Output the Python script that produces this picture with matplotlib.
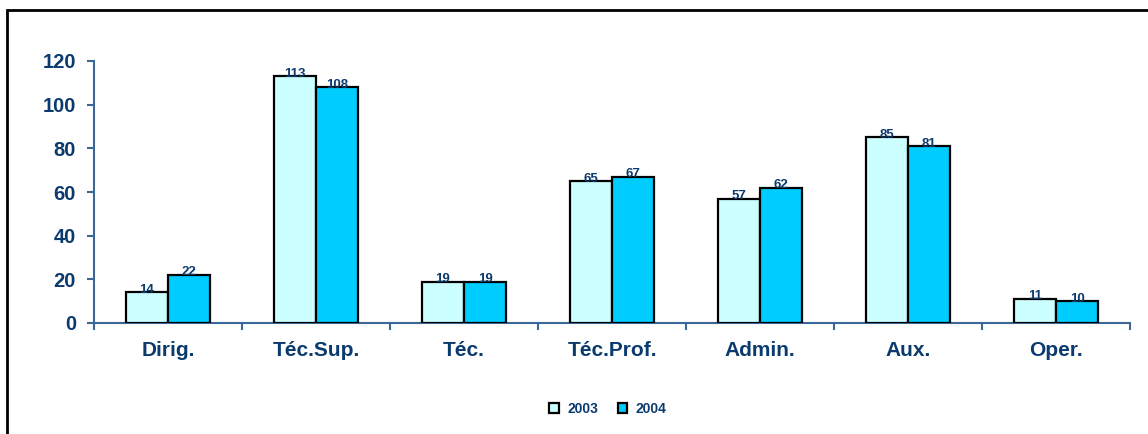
import matplotlib
matplotlib.use("Agg")
import matplotlib.pyplot as plt
from matplotlib.patches import Rectangle
import numpy as np

categories = ["Dirig.", "Téc.Sup.", "Téc.", "Téc.Prof.", "Admin.", "Aux.", "Oper."]
values_2003 = [14, 113, 19, 65, 57, 85, 11]
values_2004 = [22, 108, 19, 67, 62, 81, 10]
series_names = ["2003", "2004"]
yticks = [0, 20, 40, 60, 80, 100, 120]

NAVY = "#0B3B6E"
AXIS = "#3A6795"
LIGHT = "#CCFFFF"
CYAN = "#00CCFF"

plt.rcParams["font.family"] = ["Liberation Sans", "DejaVu Sans"]
plt.rcParams["font.weight"] = "bold"

W, H = 1148, 434
fig = plt.figure(figsize=(W / 100, H / 100), dpi=100)

# outer frame of the chart area
fig.patches.append(Rectangle((7 / W, -0.1), 1.2, 1.1 - 10 / H, transform=fig.transFigure,
                             fill=False, edgecolor="black", linewidth=2, zorder=0))

left, right = 94 / W, 1130 / W
bottom, top = 1 - 323 / H, 1 - 61 / H
ax = fig.add_axes([left, bottom, right - left, top - bottom])

n = len(categories)
x = np.arange(n) + 0.5
bw = 0.284
b1 = ax.bar(x - bw / 2, values_2003, bw, color=LIGHT, edgecolor="black", linewidth=1.6,
            label=series_names[0], zorder=3)
b2 = ax.bar(x + bw / 2, values_2004, bw, color=CYAN, edgecolor="black", linewidth=1.6,
            label=series_names[1], zorder=3)

for bars, vals in ((b1, values_2003), (b2, values_2004)):
    for rect, v in zip(bars, vals):
        ax.annotate(str(v), (rect.get_x() + rect.get_width() / 2, v),
                    xytext=(0, -2.5), textcoords="offset points",
                    ha="center", va="bottom", fontsize=9.5, color=NAVY,
                    fontweight="bold", zorder=4)

ax.set_xlim(0, n)
ax.set_ylim(0, 120)
ax.set_yticks(yticks)
ax.set_yticklabels([str(t) for t in yticks], fontsize=14.5, color=NAVY, fontweight="bold")
ax.set_xticks(np.arange(n + 1))
ax.set_xticklabels([])
ax.set_xticks(x, minor=True)
ax.set_xticklabels(categories, minor=True, fontsize=15, color=NAVY, fontweight="bold")
ax.tick_params(axis="x", which="minor", length=0, pad=13)
ax.tick_params(axis="x", which="major", direction="out", length=5, width=1.5, color=AXIS)
ax.tick_params(axis="y", direction="out", length=5, width=1.5, color=AXIS, pad=8)

for s in ("top", "right"):
    ax.spines[s].set_visible(False)
for s in ("left", "bottom"):
    ax.spines[s].set_color(AXIS)
    ax.spines[s].set_linewidth(1.5)

leg = fig.legend(handles=[b1, b2], labels=series_names, loc="center",
                 bbox_to_anchor=(608 / W, 1 - 409 / H), ncol=2, frameon=False,
                 handlelength=0.7, handleheight=0.7, handletextpad=0.6,
                 columnspacing=1.4, prop={"weight": "bold", "size": 10})
for t in leg.get_texts():
    t.set_color(NAVY)

fig.savefig("out.png", dpi=100, facecolor="white")
